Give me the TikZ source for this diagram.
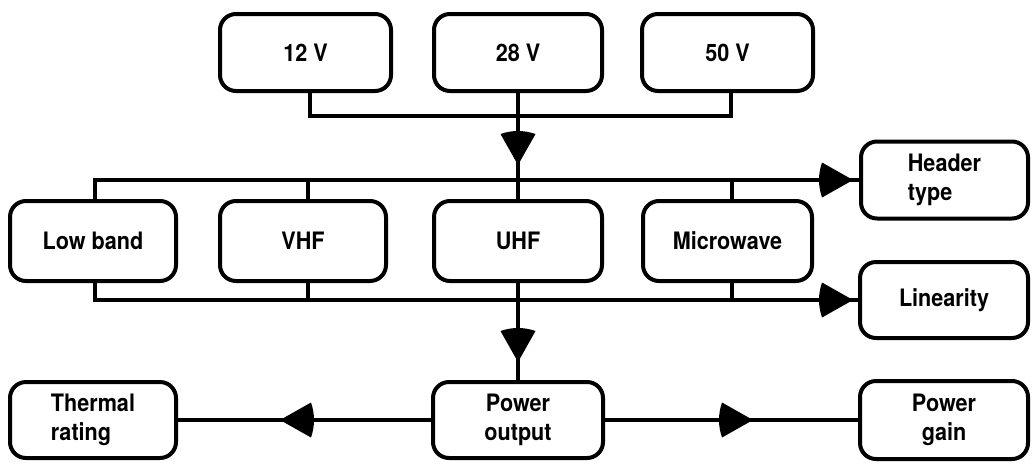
\documentclass[tikz,border=0pt]{standalone}
\usepackage{fontspec}
\setsansfont{TeX Gyre Heros}[FakeStretch=0.9]
\usetikzlibrary{decorations.markings}
\tikzset{
  box/.style={draw, line width=4pt, rounded corners=16pt, fill=white,
    font=\sffamily\bfseries\fontsize{24}{29}\selectfont, inner sep=0pt},
  conn/.style={line width=4pt},
  midarrow/.style={postaction={decorate,decoration={markings,
    mark=at position #1 with {\fill (0pt,0pt) -- (-31pt,-17.5pt) .. controls (-35pt,-6pt) and (-35pt,6pt) .. (-31pt,17.5pt) -- cycle;}}}}
}
\begin{document}
\begin{tikzpicture}[x=1pt,y=-1pt]
\useasboundingbox (0,0) rectangle (1032,464);
% top row
\node[box, minimum width=171pt, minimum height=77pt] (v12) at (305.5,52.5) {12 V};
\node[box, minimum width=168pt, minimum height=77pt] (v28) at (518,52.5) {28 V};
\node[box, minimum width=171pt, minimum height=77pt] (v50) at (727.5,52.5) {50 V};
% middle row
\node[box, minimum width=166pt, minimum height=80pt] (low) at (93,241) {Low band};
\node[box, minimum width=166pt, minimum height=80pt] (vhf) at (303,241) {VHF};
\node[box, minimum width=168pt, minimum height=80pt] (uhf) at (518,241) {UHF};
\node[box, minimum width=169pt, minimum height=80pt] (micro) at (727.5,241) {Microwave};
% right column
\node[box, minimum width=167pt, minimum height=77pt, align=left] (header) at (944.5,180) {Header\\type};
\node[box, minimum width=168pt, minimum height=76pt] (lin) at (944,300) {Linearity};
% bottom row
\node[box, minimum width=166pt, minimum height=76pt, align=left] (therm) at (93,420) {Thermal\\rating};
\node[box, minimum width=170pt, minimum height=76pt, align=center] (pout) at (518,420) {Power\\output};
\node[box, minimum width=168pt, minimum height=78pt, align=center] (pgain) at (944,420) {Power\\gain};
% top bus
\coordinate (b1) at (518,116);
\draw[conn] ([xshift=4.5pt]v12.south) |- (b1) -| ([xshift=3.5pt]v50.south);
\draw[conn, midarrow=72pt] (v28.south) -- (uhf.north);
% upper band bus
\coordinate (hb) at (header.west);
\draw[conn, midarrow=-6pt] ([xshift=2pt]low.north) |- (header.west);
\draw[conn] ([xshift=5pt]vhf.north) -- ([xshift=5pt]vhf.north |- hb);
\draw[conn] ([xshift=4pt]micro.north) -- ([xshift=4pt]micro.north |- hb);
% lower band bus
\coordinate (lb) at (lin.west);
\draw[conn, midarrow=-5pt] ([xshift=2pt]low.south) |- (lin.west);
\draw[conn] ([xshift=5pt]vhf.south) -- ([xshift=5pt]vhf.south |- lb);
\draw[conn] ([xshift=4pt]micro.south) -- ([xshift=4pt]micro.south |- lb);
\draw[conn, midarrow=79pt] (uhf.south) -- (pout.north);
% bottom
\draw[conn, midarrow=151pt] (pout.west) -- (therm.east);
\draw[conn, midarrow=148pt] (pout.east) -- (pgain.west);
\end{tikzpicture}
\end{document}
